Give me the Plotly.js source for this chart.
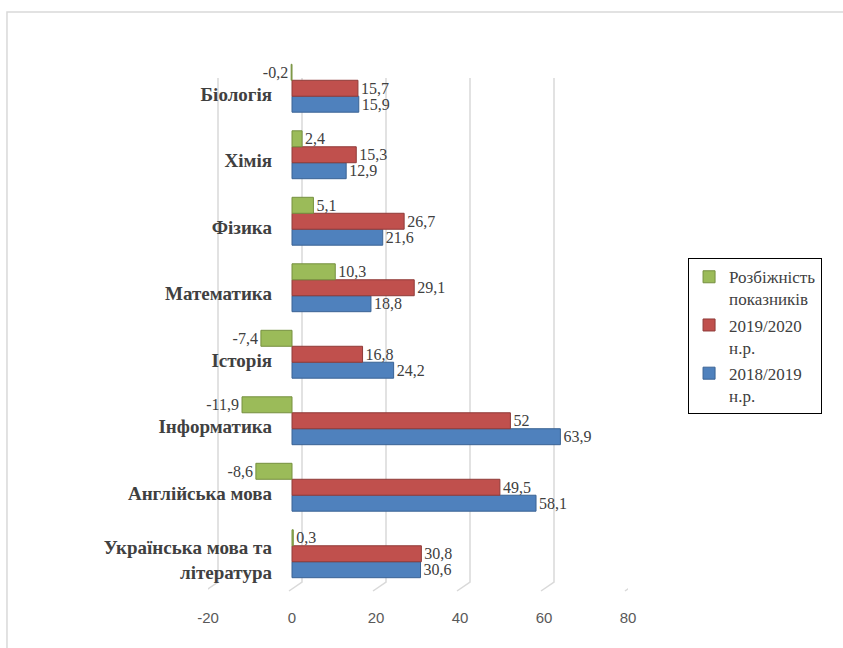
<!DOCTYPE html>
<html>
<head>
<meta charset="utf-8">
<script src="https://cdn.plot.ly/plotly-3.0.1.min.js"></script>
<style>html,body{margin:0;padding:0;background:#fff;}#chart{width:843px;height:648px;}</style>
</head>
<body>
<div id="chart"></div>
<script>
const categories = [
  "Українська мова та<br>література",
  "Англійська мова",
  "Інформатика",
  "Історія",
  "Математика",
  "Фізика",
  "Хімія",
  "Біологія"
];
const seriesNames = ["2018/2019<br>н.р.", "2019/2020<br>н.р.", "Розбіжність<br>показників"];
const values2018 = [30.6, 58.1, 63.9, 24.2, 18.8, 21.6, 12.9, 15.9];
const values2019 = [30.8, 49.5, 52, 16.8, 29.1, 26.7, 15.3, 15.7];
const valuesDiff = [0.3, -8.6, -11.9, -7.4, 10.3, 5.1, 2.4, -0.2];
const xTicks = [-20, 0, 20, 40, 60, 80];

const colors = ["#4f81bd", "#c0504d", "#9bbb59"];
const edgeColors = ["#3a6394", "#8f3b39", "#76903f"];
const legendRanks = [3, 2, 1];
const fmt = v => String(v).replace('.', ',');
const SERIF = '"Liberation Serif", "Times New Roman", serif';

const allValues = [values2018, values2019, valuesDiff];
const traces = allValues.map((vals, i) => ({
  type: 'bar',
  orientation: 'h',
  name: seriesNames[i],
  legendgroup: 'g' + i,
  legendrank: legendRanks[i],
  y: categories,
  x: vals,
  text: vals.map(fmt),
  textposition: 'outside',
  constraintext: 'none',
  cliponaxis: false,
  textfont: {family: SERIF, size: 16, color: '#404040'},
  marker: {color: colors[i], line: {color: edgeColors[i], width: 1}},
  hoverinfo: 'skip'
}));

const shapes = xTicks.map(v => ({
  type: 'path',
  xref: 'x', yref: 'paper',
  xsizemode: 'pixel', ysizemode: 'pixel',
  xanchor: v, yanchor: 0,
  path: 'M -3 -4 L 10 5 L 10 509',
  line: {color: '#d9d9d9', width: 1.5},
  layer: 'below'
}));
shapes.push({
  type: 'path', xref: 'paper', yref: 'paper',
  path: 'M -0.4786 -0.5 L -0.4786 1.0808 L 2 1.0808',
  line: {color: '#d9d9d9', width: 1.5},
  layer: 'below'
});

const layout = {
  width: 843, height: 648,
  margin: {l: 208, r: 215, t: 55, b: 61},
  paper_bgcolor: '#ffffff', plot_bgcolor: 'rgba(0,0,0,0)',
  font: {family: SERIF},
  barmode: 'group',
  bargap: 0.28,
  bargroupgap: 0,
  showlegend: true,
  legend: {
    x: 1.143, xanchor: 'left', y: 0.618, yanchor: 'top',
    traceorder: 'grouped',
    bordercolor: '#000000', borderwidth: 1,
    font: {family: SERIF, size: 17, color: '#404040'},
    valign: 'top',
    itemwidth: 30,
    tracegroupgap: 1
  },
  xaxis: {
    range: [-20, 80],
    tickvals: xTicks,
    ticktext: xTicks.map(String),
    showgrid: false, zeroline: false, showline: false,
    ticks: '',
    ticklabelstandoff: 20,
    tickfont: {family: '"Liberation Sans", Arial, sans-serif', size: 15, color: '#595959'},
    fixedrange: true
  },
  yaxis: {
    type: 'category',
    categoryorder: 'array', categoryarray: categories,
    range: [-0.5, 7.5],
    anchor: 'free', position: 0.2,
    showgrid: false, zeroline: false, showline: false,
    ticks: '',
    ticklabelstandoff: 20,
    ticklabelshift: 6,
    tickfont: {family: SERIF, size: 19, color: '#404040', weight: 'bold'},
    fixedrange: true
  },
  shapes: shapes
};

Plotly.newPlot('chart', traces, layout, {displayModeBar: false, staticPlot: true});
</script>
</body>
</html>
